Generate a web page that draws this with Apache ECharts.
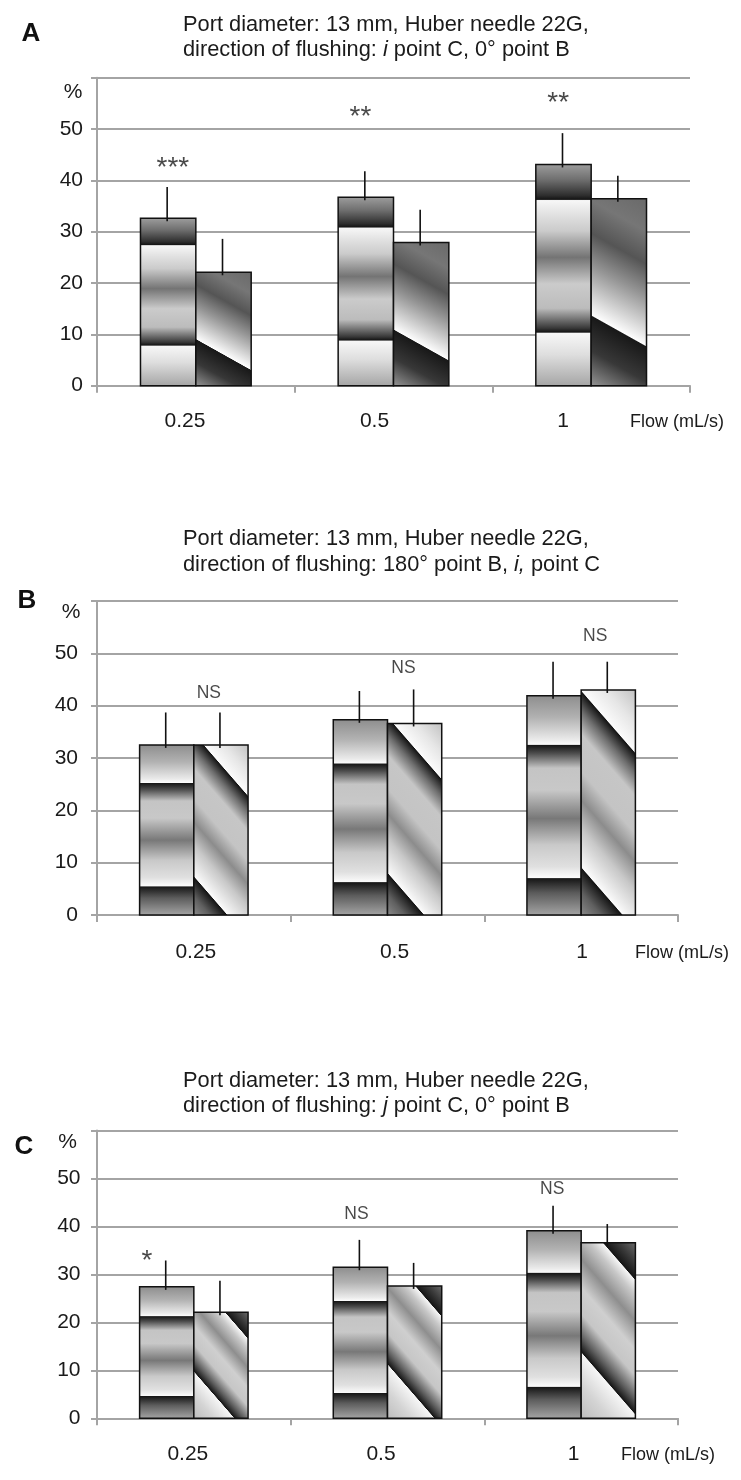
<!DOCTYPE html>
<html><head><meta charset="utf-8">
<script src="https://cdn.jsdelivr.net/npm/echarts@6/dist/echarts.min.js"></script>
<style>html,body{margin:0;padding:0;background:#fff}#c{width:741px;height:1480px}</style>
</head><body><div id="c"></div>
<script>
// ---------------- data ----------------
const categories = ['0.25', '0.5', '1'];
const yMin = 0, yMax = 60, yStep = 10;

// Panel A
const aBar1 = [32.6, 36.7, 43.1];
const aErr1 = [38.7, 41.8, 49.2];
const aBar2 = [22.1, 27.9, 36.4];
const aErr2 = [28.6, 34.3, 40.9];
const aSig = ['***', '**', '**'];
const aSigAt = [42.4, 52.3, 55.1];

// Panel B
const bBar1 = [32.5, 37.3, 41.9];
const bErr1 = [38.7, 42.8, 48.4];
const bBar2 = [32.5, 36.6, 43.0];
const bErr2 = [38.7, 43.1, 48.4];
const bSig = ['NS', 'NS', 'NS'];
const bSigAt = [42.4, 47.1, 53.2];

// Panel C
const cBar1 = [27.4, 31.5, 39.1];
const cErr1 = [32.9, 37.2, 44.3];
const cBar2 = [22.1, 27.6, 36.6];
const cErr2 = [28.7, 32.4, 40.5];
const cSig = ['*', 'NS', 'NS'];
const cSigAt = [32.7, 42.5, 47.7];

const titlesLine1 = 'Port diameter: 13 mm, Huber needle 22G,';
const titlesA2 = 'direction of flushing: {it|i} point C, 0° point B';
const titlesB2 = 'direction of flushing: 180° point B, {it|i,} point C';
const titlesC2 = 'direction of flushing: {it|j} point C, 0° point B';

// ---------------- styles ----------------
const FONT = 'Liberation Sans, Arial, Helvetica, sans-serif';
const GRAY = '#a4a4a4';
const TXT = '#1a1a1a';

const bandsA = [[0,'#9c9c9c'],[0.07,'#6e6e6e'],[0.14,'#2e2e2e'],[0.158,'#141414'],[0.163,'#f7f7f7'],[0.23,'#e0e0e0'],[0.3,'#cbcbcb'],[0.42,'#747474'],[0.54,'#cbcbcb'],[0.65,'#bcbcbc'],[0.74,'#383838'],[0.758,'#141414'],[0.763,'#f7f7f7'],[0.86,'#dedede'],[1,'#a6a6a6']];
const bandsBC = [[0,'#8e8e8e'],[0.1,'#b2b2b2'],[0.2,'#eaeaea'],[0.222,'#fbfbfb'],[0.226,'#161616'],[0.262,'#4c4c4c'],[0.33,'#c4c4c4'],[0.43,'#c8c8c8'],[0.56,'#787878'],[0.68,'#c9c9c9'],[0.78,'#e0e0e0'],[0.83,'#fbfbfb'],[0.834,'#161616'],[0.9,'#5c5c5c'],[1,'#a4a4a4']];
const diagA = [[0,'#6a6a6a'],[0.15,'#767676'],[0.3,'#555555'],[0.45,'#959595'],[0.6,'#dadada'],[0.675,'#fdfdfd'],[0.68,'#181818'],[0.84,'#383838'],[1,'#949494']];
const stripesB = [[0,'#c2c2c2'],[0.12,'#e6e6e6'],[0.218,'#fbfbfb'],[0.222,'#141414'],[0.29,'#6e6e6e'],[0.37,'#c6c6c6'],[0.5,'#c4c4c4'],[0.6,'#8c8c8c'],[0.7,'#c8c8c8'],[0.8,'#eeeeee'],[0.832,'#fbfbfb'],[0.836,'#141414'],[0.92,'#606060'],[1,'#8a8a8a']];
const stripesC = [[0,'#6a6a6a'],[0.08,'#3c3c3c'],[0.155,'#151515'],[0.159,'#f6f6f6'],[0.22,'#c8c8c8'],[0.33,'#8e8e8e'],[0.45,'#cfcfcf'],[0.56,'#c6c6c6'],[0.66,'#5c5c5c'],[0.72,'#151515'],[0.724,'#f6f6f6'],[0.86,'#d4d4d4'],[1,'#bdbdbd']];

function makeGrad(x0, y0, w, h, m, stops) {
  const L = Math.sqrt(1 + m * m);
  const D = (h + m * w) / L;
  const nx = -m / L, ny = 1 / L;
  const px = x0 + w, py = y0;
  return new echarts.graphic.LinearGradient(px, py, px + nx * D, py + ny * D,
    stops.map(s => ({offset: s[0], color: s[1]})), true);
}

function makeRender(k, stops, slope) {
  return function (params, api) {
    const idx = api.value(0), v = api.value(1), e = api.value(2);
    const top = api.coord([idx, v]);
    const base = api.coord([idx, 0]);
    const errP = api.coord([idx, e]);
    const band = api.size([1, 0])[0];
    const bw = band * 0.28;
    const x0 = k === 0 ? top[0] - bw : top[0];
    const y0 = top[1], h = base[1] - top[1];
    const ex = x0 + bw / 2 - 1;
    return {type: 'group', children: [
      {type: 'rect', shape: {x: x0, y: y0, width: bw, height: h},
        style: {fill: makeGrad(x0, y0, bw, h, slope, stops), stroke: '#111', lineWidth: 1.5}},
      {type: 'line', shape: {x1: ex, y1: y0 + 3, x2: ex, y2: errP[1]},
        style: {stroke: '#111', lineWidth: 1.6}}
    ]};
  };
}

const panels = [
  {bar1: aBar1, err1: aErr1, bar2: aBar2, err2: aErr2, sig: aSig, sigAt: aSigAt,
   grid: {left: 97, top: 77.7, width: 593, height: 308}, yMargin: 14, xMargin: 25,
   xShift: [-10.8, -19, -28], sigDx: [-23, -33, -33],
   fill1: bandsA, m1: 0, fill2: diagA, m2: 0.56,
   letter: 'A', letterXY: [31, 34], pctXY: [73, 92], line2: titlesA2, titleY: [25, 50], flowXY: [677, 422]},
  {bar1: bBar1, err1: bErr1, bar2: bBar2, err2: bErr2, sig: bSig, sigAt: bSigAt,
   grid: {left: 97, top: 601, width: 581, height: 314}, yMargin: 19, xMargin: 26.5,
   xShift: [2, 7, 1], sigDx: [15, 16, 14],
   fill1: bandsBC, m1: 0, fill2: stripesB, m2: 1.15,
   letter: 'B', letterXY: [27, 601], pctXY: [71, 612], line2: titlesB2, titleY: [539, 565], flowXY: [682, 953]},
  {bar1: cBar1, err1: cErr1, bar2: cBar2, err2: cErr2, sig: cSig, sigAt: cSigAt,
   grid: {left: 97, top: 1130.5, width: 581, height: 287.8}, yMargin: 16.5, xMargin: 25,
   xShift: [-6, -6.5, -7.7], sigDx: [-47, -31, -29],
   fill1: bandsBC, m1: 0, fill2: stripesC, m2: 1.15,
   letter: 'C', letterXY: [24, 1147], pctXY: [67.5, 1142], line2: titlesC2, titleY: [1081, 1106], flowXY: [668, 1455]}
];

const grids = [], xAxes = [], yAxes = [], series = [], graphics = [];
panels.forEach((p, gi) => {
  grids.push(Object.assign({containLabel: false}, p.grid));
  const rich = {};
  p.xShift.forEach((s, i) => {
    rich['p' + i] = {fontSize: 21, fontFamily: FONT, color: TXT,
      padding: s < 0 ? [0, -2 * s, 0, 0] : [0, 0, 0, 2 * s]};
  });
  xAxes.push({type: 'category', gridIndex: gi, data: categories, boundaryGap: true,
    axisLine: {show: true, lineStyle: {color: GRAY, width: 2}},
    axisTick: {show: true, length: 7, lineStyle: {color: GRAY, width: 2}},
    axisLabel: {show: true, margin: p.xMargin, fontSize: 21, fontFamily: FONT, color: TXT,
      formatter: (val, idx) => '{p' + idx + '|' + val + '}', rich: rich},
    splitLine: {show: false}});
  yAxes.push({type: 'value', gridIndex: gi, min: yMin, max: yMax, interval: yStep,
    axisLine: {show: true, lineStyle: {color: GRAY, width: 2}},
    axisTick: {show: true, length: 6, lineStyle: {color: GRAY, width: 2}},
    axisLabel: {show: true, margin: p.yMargin, fontSize: 21, fontFamily: FONT, color: TXT,
      formatter: v => (v === yMax ? '' : String(v))},
    splitLine: {show: true, lineStyle: {color: GRAY, width: 2}}});
  series.push({type: 'custom', xAxisIndex: gi, yAxisIndex: gi, z: 3,
    renderItem: makeRender(0, p.fill1, p.m1), encode: {x: 0, y: 1},
    data: categories.map((c, i) => [i, p.bar1[i], p.err1[i]])});
  series.push({type: 'custom', xAxisIndex: gi, yAxisIndex: gi, z: 3,
    renderItem: makeRender(1, p.fill2, p.m2), encode: {x: 0, y: 1},
    data: categories.map((c, i) => [i, p.bar2[i], p.err2[i]])});
  series.push({type: 'scatter', xAxisIndex: gi, yAxisIndex: gi, z: 4, symbolSize: 1,
    itemStyle: {color: 'rgba(0,0,0,0)'}, silent: true,
    label: {show: true, position: 'inside', fontFamily: FONT, color: TXT},
    data: p.sig.map((t, i) => ({value: [i, p.sigAt[i]],
      label: {formatter: t, offset: [p.sigDx[i], 0], fontSize: t.indexOf('*') >= 0 ? 28 : 17.5}}))});
  // text decorations
  graphics.push({type: 'text', x: p.letterXY[0], y: p.letterXY[1],
    style: {text: p.letter, fontSize: 26, fontWeight: 'bold', fontFamily: FONT, fill: '#111',
      align: 'center', verticalAlign: 'middle'}});
  graphics.push({type: 'text', x: p.pctXY[0], y: p.pctXY[1],
    style: {text: '%', fontSize: 21, fontFamily: FONT, fill: TXT, align: 'center', verticalAlign: 'middle'}});
  graphics.push({type: 'text', x: 183, y: p.titleY[0],
    style: {text: titlesLine1, fontSize: 21.8, fontFamily: FONT, fill: TXT, align: 'left', verticalAlign: 'middle'}});
  graphics.push({type: 'text', x: 183, y: p.titleY[1],
    style: {text: p.line2, fontSize: 21.8, fontFamily: FONT, fill: TXT, align: 'left', verticalAlign: 'middle',
      rich: {it: {fontSize: 21.8, fontFamily: FONT, fontStyle: 'italic', fill: TXT}}}});
  graphics.push({type: 'text', x: p.flowXY[0], y: p.flowXY[1],
    style: {text: 'Flow (mL/s)', fontSize: 18, fontFamily: FONT, fill: TXT, align: 'center', verticalAlign: 'middle'}});
});

const chart = echarts.init(document.getElementById('c'), null, {renderer: 'canvas'});
chart.setOption({
  backgroundColor: '#fff',
  animation: false,
  grid: grids, xAxis: xAxes, yAxis: yAxes, series: series,
  graphic: {elements: graphics}
});
</script>
</body></html>
